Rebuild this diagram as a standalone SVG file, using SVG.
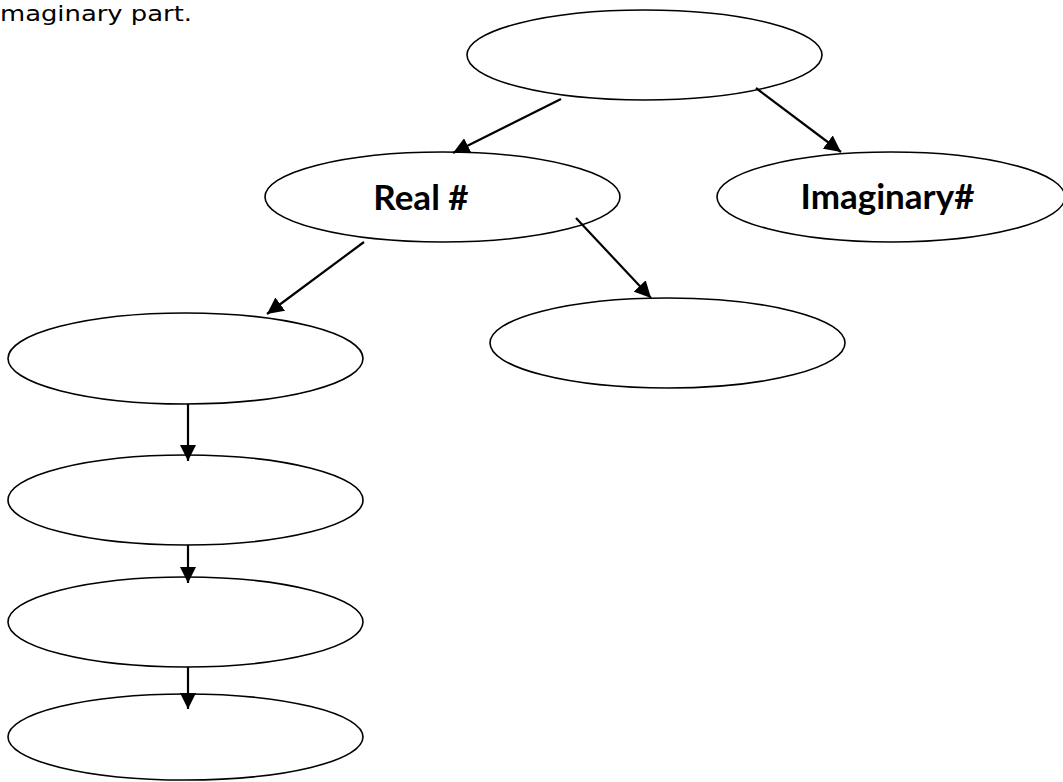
<svg xmlns="http://www.w3.org/2000/svg" width="1063" height="782" viewBox="0 0 1063 782">
<style>
.n{fill:#fff;stroke:#000;stroke-width:1.6}
.c{stroke:#000;stroke-width:2.2;fill:none;marker-end:url(#ah)}
.t{font-family:Lato,"Open Sans","Liberation Sans",sans-serif;font-weight:bold;font-size:35px;fill:#000}
.h{font-family:"DejaVu Sans","Liberation Sans",sans-serif;font-size:21px;fill:#000}
</style>
<defs>
<marker id="ah" viewBox="0 0 10 10" refX="10" refY="5" markerWidth="7.5" markerHeight="7.5" markerUnits="strokeWidth" orient="auto">
<path d="M0,0 L10,5 L0,10 z" fill="#000"/>
</marker>
</defs>
<rect width="1063" height="782" fill="#fff"/>
<text class="h" x="0" y="21" textLength="192" lengthAdjust="spacingAndGlyphs">maginary part.</text>
<g id="top"><ellipse class="n" cx="644.5" cy="55" rx="177.5" ry="45"/></g>
<g id="real"><ellipse class="n" cx="442.5" cy="197" rx="177.5" ry="45"/><text class="t" x="421" y="210" text-anchor="middle">Real #</text></g>
<g id="imag"><ellipse class="n" cx="891" cy="197" rx="174" ry="45"/><text class="t" x="887.5" y="209" text-anchor="middle">Imaginary#</text></g>
<g id="realRight"><ellipse class="n" cx="667.5" cy="343" rx="177.5" ry="45"/></g>
<g id="col1"><ellipse class="n" cx="185.5" cy="358.5" rx="177.5" ry="45.5"/></g>
<g id="col2"><ellipse class="n" cx="185.5" cy="500" rx="177.5" ry="45"/></g>
<g id="col3"><ellipse class="n" cx="185.5" cy="622" rx="177.5" ry="45"/></g>
<g id="col4"><ellipse class="n" cx="185.5" cy="737" rx="177.5" ry="43"/></g>
<g id="connectors">
<line class="c" x1="561" y1="99" x2="453" y2="153"/>
<line class="c" x1="756" y1="88" x2="841" y2="152"/>
<line class="c" x1="364" y1="242" x2="267" y2="314"/>
<line class="c" x1="576" y1="218" x2="651" y2="298"/>
<line class="c" x1="188" y1="404" x2="188" y2="461"/>
<line class="c" x1="188" y1="545" x2="188" y2="583"/>
<line class="c" x1="188" y1="667" x2="188" y2="709"/>
</g>
</svg>
